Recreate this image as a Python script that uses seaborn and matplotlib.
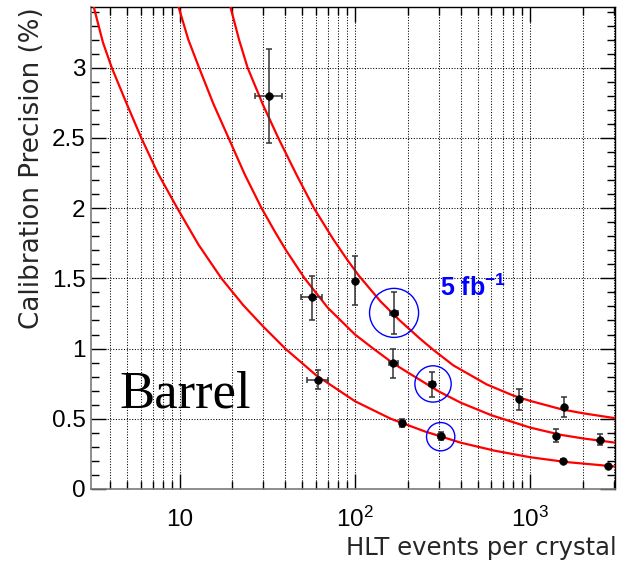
import numpy as np
import pandas as pd
import matplotlib
matplotlib.use("Agg")
import matplotlib.pyplot as plt
from matplotlib.ticker import LogLocator, MultipleLocator, NullFormatter
import seaborn as sns

# ---- data ----
# fit curves
curve_a_x = [3.24, 3.65, 4.1, 5.0, 6.04, 7.5, 9.69, 12.8, 17.3, 23, 30, 40, 60, 100, 160, 250, 400, 630, 1000, 1600, 2500, 3050]
curve_a_y = [3.43, 3.18, 3.0, 2.74, 2.5, 2.25, 2.0, 1.74, 1.5, 1.31, 1.156, 1.0, 0.81, 0.625, 0.50, 0.41, 0.33, 0.272, 0.226, 0.192, 0.17, 0.160]
curve_b_x = [9.87, 11.2, 12.9, 15.6, 19.0, 23.5, 29.3, 35, 40.4, 51.6, 70, 100, 127, 165, 200, 300, 400, 600, 1000, 1500, 2000, 3050]
curve_b_y = [3.43, 3.2, 3.0, 2.74, 2.5, 2.24, 2.0, 1.83, 1.70, 1.5, 1.29, 1.10, 1.0, 0.895, 0.83, 0.695, 0.615, 0.525, 0.437, 0.385, 0.36, 0.33]
curve_c_x = [19.5, 21.8, 24.4, 30, 36.5, 46.5, 58.3, 75, 90, 105, 140, 180, 235, 280, 364, 563, 800, 1000, 1500, 2000, 3050]
curve_c_y = [3.43, 3.2, 3.0, 2.73, 2.5, 2.235, 2.0, 1.78, 1.635, 1.52, 1.335, 1.20, 1.07, 0.99, 0.88, 0.745, 0.665, 0.627, 0.568, 0.539, 0.504]

# measured points
pt_x    = [32.4, 56.6, 100, 167, 165.6, 61.2, 186, 274, 308, 863, 1556, 1403, 2500, 1542, 2761]
pt_y    = [2.797, 1.365, 1.484, 1.254, 0.895, 0.776, 0.468, 0.748, 0.377, 0.639, 0.586, 0.377, 0.349, 0.202, 0.164]
pt_ylo  = [2.467, 1.204, 1.31, 1.102, 0.788, 0.71, 0.44, 0.657, 0.349, 0.563, 0.511, 0.333, 0.313, 0.19, 0.155]
pt_yhi  = [3.132, 1.519, 1.66, 1.401, 0.997, 0.848, 0.50, 0.831, 0.408, 0.712, 0.653, 0.425, 0.39, 0.212, 0.172]
pt_xlo  = [26.9, 49.2, 100, 158, 156, 53.0, 180, 264, 298, 863, 1556, 1403, 2500, 1542, 2761]
pt_xhi  = [38.2, 64.5, 100, 177, 176, 70.5, 193, 285, 318, 863, 1556, 1403, 2500, 1542, 2761]

# highlighted points (blue circles)
circle_x = [167, 278.6, 308]
circle_y = [1.254, 0.748, 0.3725]
circle_size = [1246, 683, 415]

x_tick_vals = [10, 100, 1000]
x_tick_labels = ['10', r'$\mathregular{10^{2}}$', r'$\mathregular{10^{3}}$']
y_tick_vals = [0, 0.5, 1, 1.5, 2, 2.5, 3]
y_tick_labels = ['0', '0.5', '1', '1.5', '2', '2.5', '3']

# ---- style ----
sns.set_style("ticks")
plt.rcParams['font.family'] = ['Liberation Sans', 'DejaVu Sans']
plt.rcParams['mathtext.fontset'] = 'custom'
plt.rcParams['mathtext.rm'] = 'Liberation Sans'
plt.rcParams['mathtext.bf'] = 'Liberation Sans:bold'
plt.rcParams['mathtext.it'] = 'Liberation Sans:italic'

fig = plt.figure(figsize=(6.27, 5.62), dpi=100)
ax = fig.add_axes([0.1451, 0.1299, 0.9809 - 0.1451, 0.987 - 0.1299])

ax.set_xscale('log')
ax.set_xlim(3.12, 3040)
ax.set_ylim(0, 3.43)

# grid
ax.set_axisbelow(True)
grid_kw = dict(color='black', linestyle=(0, (1, 1.6)), linewidth=0.75)
ax.xaxis.set_minor_locator(LogLocator(base=10, subs=np.arange(2, 10)))
ax.xaxis.set_minor_formatter(NullFormatter())
ax.yaxis.set_minor_locator(MultipleLocator(0.1))
ax.grid(True, which='both', axis='x', **grid_kw)
ax.grid(True, which='major', axis='y', **grid_kw)

# curves
for cx, cy in [(curve_a_x, curve_a_y), (curve_b_x, curve_b_y), (curve_c_x, curve_c_y)]:
    df = pd.DataFrame({'x': cx, 'y': cy})
    sns.lineplot(data=df, x='x', y='y', ax=ax, color='#ff0000', linewidth=1.6,
                 sort=False, estimator=None, zorder=3)

# points with error bars
pts = pd.DataFrame({'x': pt_x, 'y': pt_y, 'ylo': pt_ylo, 'yhi': pt_yhi, 'xlo': pt_xlo, 'xhi': pt_xhi})
yerr = np.vstack([pts['y'] - pts['ylo'], pts['yhi'] - pts['y']])
xerr = np.vstack([pts['x'] - pts['xlo'], pts['xhi'] - pts['x']])
ax.errorbar(pts['x'], pts['y'], yerr=yerr, xerr=xerr, fmt='none', ecolor='#333333',
            elinewidth=1.1, capsize=2.2, capthick=1.1, zorder=4)
sns.scatterplot(data=pts, x='x', y='y', ax=ax, color='black', s=30, edgecolor='black',
                linewidth=0.5, zorder=5, legend=False)

# blue circles
circ = pd.DataFrame({'x': circle_x, 'y': circle_y, 's': circle_size})
ax.scatter(circ['x'], circ['y'], s=circ['s'], facecolors='none', edgecolors='#0000ff',
           linewidths=1.0, zorder=6)

# texts
ax.text(306, 1.43, r'$\mathbf{5\ fb^{-1}}$', color='#0000ff', fontsize=18,
        ha='left', va='center', zorder=7)
ax.text(4.56, 0.577, 'Barrel', family=['Liberation Serif', 'DejaVu Serif'], fontsize=38,
        ha='left', va='baseline', color='black', zorder=7)

# ticks
ax.set_xticks(x_tick_vals, x_tick_labels)
ax.set_yticks(y_tick_vals, y_tick_labels)
ax.tick_params(axis='both', which='both', direction='in', top=True, right=True,
               colors='black', labelcolor='black', labelsize=17.5)
ax.tick_params(axis='x', which='major', length=11, width=1, pad=27)
ax.tick_params(axis='x', which='minor', length=5.5, width=1)
ax.tick_params(axis='y', which='major', length=11, width=1, pad=4)
ax.tick_params(axis='y', which='minor', length=6, width=1)
for lbl in ax.get_xticklabels():
    lbl.set_verticalalignment('baseline')

for side in ['top', 'right']:
    ax.spines[side].set_color('black')
    ax.spines[side].set_linewidth(1.0)
for side in ['left', 'bottom']:
    ax.spines[side].set_color('#7a7a7a')
    ax.spines[side].set_linewidth(1.2)

ax.set_xlabel('HLT events per crystal', fontsize=17.5, loc='right',
              family=['DejaVu Sans'])
ax.set_ylabel('Calibration Precision (%)', fontsize=18.8, loc='top',
              family=['DejaVu Sans'])
ax.xaxis.set_label_coords(1.004, -0.097)
ax.yaxis.set_label_coords(-0.113, 1.0)
ax.xaxis.label.set_verticalalignment('top')
ax.yaxis.label.set_verticalalignment('center')

fig.savefig('out.png', dpi=100)
